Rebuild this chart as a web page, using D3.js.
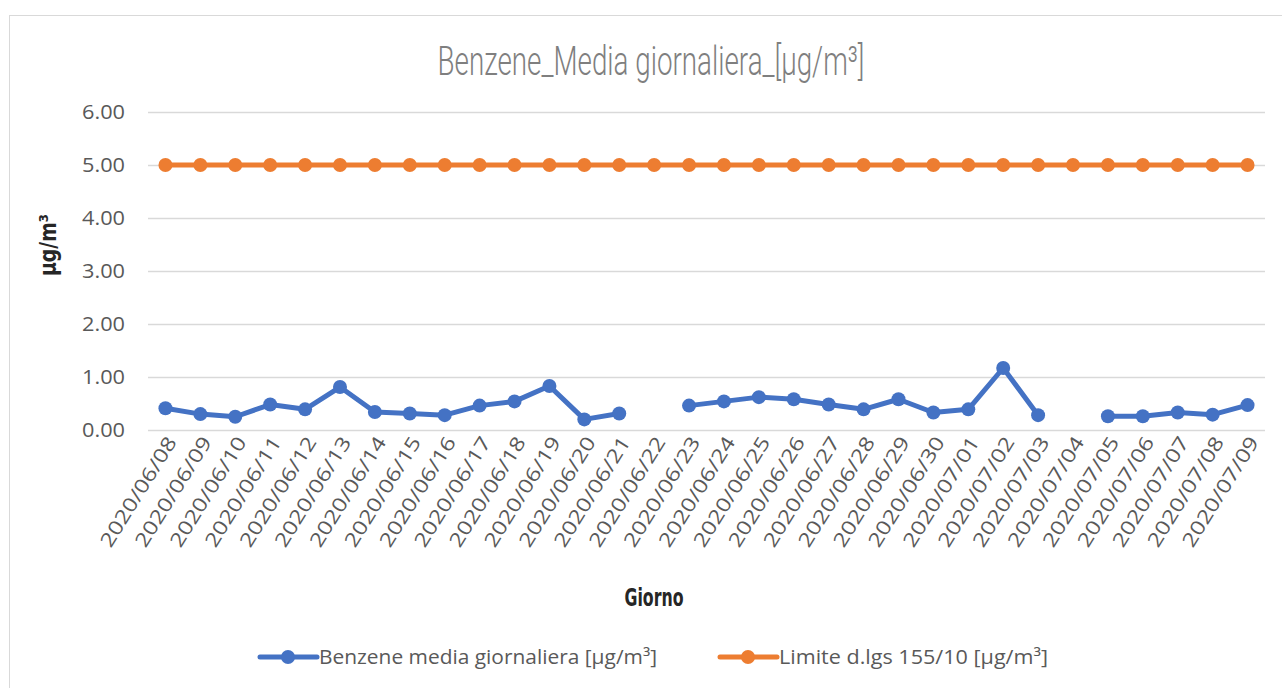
<!DOCTYPE html>
<html>
<head>
<meta charset="utf-8">
<script src="https://cdn.jsdelivr.net/npm/d3@7"></script>
<style>
  body { margin: 0; background: #fff; }
  svg { display: block; }
</style>
</head>
<body>
<div class="chart"></div>
<script>
var days = ["2020/06/08", "2020/06/09", "2020/06/10", "2020/06/11", "2020/06/12", "2020/06/13",
  "2020/06/14", "2020/06/15", "2020/06/16", "2020/06/17", "2020/06/18", "2020/06/19",
  "2020/06/20", "2020/06/21", "2020/06/22", "2020/06/23", "2020/06/24", "2020/06/25",
  "2020/06/26", "2020/06/27", "2020/06/28", "2020/06/29", "2020/06/30", "2020/07/01",
  "2020/07/02", "2020/07/03", "2020/07/04", "2020/07/05", "2020/07/06", "2020/07/07",
  "2020/07/08", "2020/07/09"];
var benzene = [0.41, 0.30, 0.25, 0.48, 0.39, 0.81, 0.34, 0.31, 0.28, 0.46, 0.54, 0.83,
  0.20, 0.31, null, 0.46, 0.54, 0.62, 0.58, 0.48, 0.39, 0.58, 0.33, 0.39,
  1.17, 0.28, null, 0.26, 0.26, 0.33, 0.29, 0.47];
var limite = days.map(function() { return 5; });
var yTicks = [0, 1, 2, 3, 4, 5, 6];
var seriesNames = ["Benzene media giornaliera [µg/m³]", "Limite d.lgs 155/10 [µg/m³]"];
var colors = ["#4472C4", "#ED7D31"];

var svgWidth = 1282;
var svgHeight = 688;
var margin = {top: 112, right: 17, bottom: 258, left: 148};
var width = svgWidth - margin.left - margin.right;
var height = svgHeight - margin.top - margin.bottom;

var svg = d3.select(".chart")
  .append("svg")
  .attr("width", svgWidth)
  .attr("height", svgHeight);

// chart frame
svg.append("rect")
  .attr("x", 9.5).attr("y", 15.5)
  .attr("width", 1290).attr("height", 700)
  .attr("fill", "#fff")
  .attr("stroke", "#d9d9d9");

var chartGroup = svg.append("g").attr("transform", `translate(${margin.left}, ${margin.top})`);

var xScale = d3.scaleBand().domain(days).range([0, width]);
var yScale = d3.scaleLinear().domain([0, 6]).range([height, 0]);

// gridlines
chartGroup.append("g")
  .call(d3.axisLeft(yScale).tickValues(yTicks).tickSize(-width).tickFormat(""))
  .call(g => g.select(".domain").remove())
  .call(g => g.selectAll("line").attr("stroke", "#d9d9d9").attr("stroke-width", 1.3));

// y tick labels
chartGroup.append("g")
  .call(d3.axisLeft(yScale).tickValues(yTicks).tickSize(0).tickPadding(23).tickFormat(d3.format(".2f")))
  .call(g => g.select(".domain").remove())
  .call(g => g.selectAll("text")
    .attr("fill", "#595959")
    .attr("font-family", "'Open Sans', sans-serif")
    .attr("font-size", 19.5)
    .attr("textLength", 43)
    .attr("lengthAdjust", "spacingAndGlyphs"));

// x tick labels
chartGroup.append("g")
  .attr("transform", `translate(0, ${height})`)
  .call(d3.axisBottom(xScale).tickSize(0).tickPadding(0))
  .call(g => g.select(".domain").remove())
  .call(g => g.selectAll("text")
    .attr("fill", "#595959")
    .attr("font-family", "'Open Sans', sans-serif")
    .attr("font-size", 19.5)
    .attr("textLength", 126)
    .attr("lengthAdjust", "spacingAndGlyphs")
    .attr("text-anchor", "end")
    .attr("dy", 0)
    .attr("transform", "translate(12, 12) rotate(-58)"));

var line = d3.line()
  .defined(d => d != null)
  .x((d, i) => xScale(days[i]) + xScale.bandwidth() / 2)
  .y(d => yScale(d));

[limite, benzene].forEach(function(vals, k) {
  var c = k === 0 ? colors[1] : colors[0];
  chartGroup.append("path")
    .attr("d", line(vals))
    .attr("fill", "none")
    .attr("stroke", c)
    .attr("stroke-width", 5)
    .attr("stroke-linejoin", "round");
  chartGroup.selectAll(null)
    .data(vals.map((v, i) => ({v: v, d: days[i]})).filter(p => p.v != null))
    .enter()
    .append("circle")
    .attr("cx", p => xScale(p.d) + xScale.bandwidth() / 2)
    .attr("cy", p => yScale(p.v))
    .attr("r", 7)
    .attr("fill", c);
});

// title
svg.append("text")
  .attr("x", 651).attr("y", 75)
  .attr("text-anchor", "middle")
  .attr("font-family", "Roboto, sans-serif")
  .attr("font-weight", 300)
  .attr("font-size", 41)
  .attr("fill", "#7f7f7f")
  .attr("textLength", 427)
  .attr("lengthAdjust", "spacingAndGlyphs")
  .text("Benzene_Media giornaliera_[µg/m³]");

// axis titles
svg.append("text")
  .attr("transform", "translate(56, 245) rotate(-90)")
  .attr("text-anchor", "middle")
  .attr("font-family", "'DejaVu Sans Condensed', 'DejaVu Sans', sans-serif")
  .attr("font-weight", "bold")
  .attr("font-size", 23)
  .attr("fill", "#262626")
  .attr("textLength", 62)
  .attr("lengthAdjust", "spacingAndGlyphs")
  .text("µg/m³");

svg.append("text")
  .attr("x", 654).attr("y", 606)
  .attr("text-anchor", "middle")
  .attr("font-family", "'DejaVu Sans Condensed', 'DejaVu Sans', sans-serif")
  .attr("font-weight", "bold")
  .attr("font-size", 24)
  .attr("fill", "#262626")
  .attr("textLength", 59)
  .attr("lengthAdjust", "spacingAndGlyphs")
  .text("Giorno");

// legend
var legendX = [260, 720];
var legendTextLen = [338, 269];
seriesNames.forEach(function(name, i) {
  var g = svg.append("g").attr("transform", `translate(${legendX[i]}, 657)`);
  g.append("line").attr("x1", 0).attr("x2", 57)
    .attr("stroke", colors[i]).attr("stroke-width", 5).attr("stroke-linecap", "round");
  g.append("circle").attr("cx", 28).attr("r", 7).attr("fill", colors[i]);
  g.append("text").attr("x", 59).attr("y", 7)
    .attr("font-family", "'Open Sans', sans-serif")
    .attr("font-size", 19.5)
    .attr("fill", "#595959")
    .attr("textLength", legendTextLen[i])
    .attr("lengthAdjust", "spacingAndGlyphs")
    .text(name);
});
</script>
</body>
</html>
